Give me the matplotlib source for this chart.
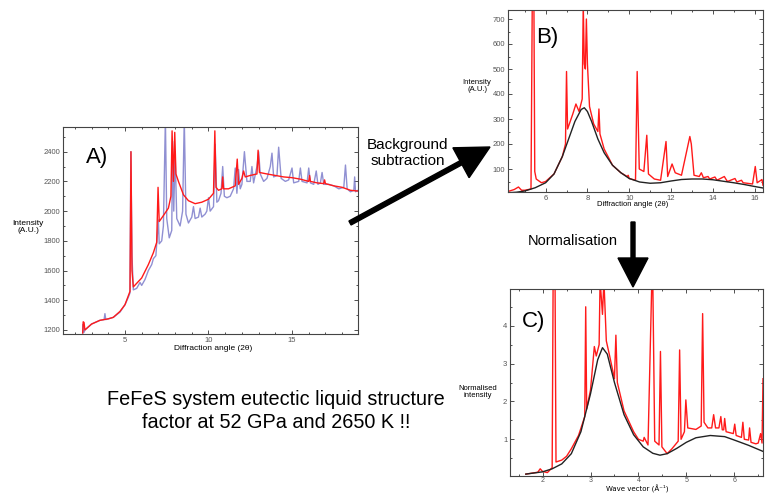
import matplotlib
matplotlib.use("Agg")
import matplotlib.pyplot as plt
from matplotlib.patches import FancyArrow
from matplotlib.ticker import MultipleLocator

plt.rcParams['font.family'] = ['Liberation Sans', 'DejaVu Sans']

# ---------------- Panel A data ----------------
a_red_x = [2.47, 2.5, 2.55, 2.6, 3.0, 3.5, 4.0, 4.3, 4.7, 5.0, 5.2, 5.3, 5.36, 5.42, 5.5, 6.0, 6.4, 6.7, 6.9,
           6.98, 7.05, 7.3, 7.6, 7.75, 7.82, 7.9, 7.98, 8.05, 8.2, 8.5, 8.8, 9.2, 9.6, 10.0, 10.3, 10.38, 10.45,
           10.6, 10.8, 10.85, 10.9, 11.2, 11.6, 11.72, 11.8, 12.0, 12.1, 12.2, 12.5, 12.9, 12.97, 13.05, 13.5,
           14.0, 14.5, 15.0, 15.5, 16.0, 16.05, 16.1, 16.5, 16.9, 16.95, 17.0, 17.5, 18.0, 18.5, 18.95]
a_red_y = [1180, 1255, 1250, 1200, 1240, 1265, 1275, 1285, 1325, 1370, 1430, 1460, 2400, 1600, 1490, 1550, 1640,
           1720, 1790, 2160, 1930, 1970, 2020, 2100, 2540, 2200, 2530, 2250, 2200, 2110, 2070, 2050, 2060, 2080,
           2120, 2540, 2160, 2140, 2150, 2230, 2150, 2150, 2170, 2350, 2180, 2220, 2270, 2230, 2240, 2250, 2410,
           2260, 2250, 2240, 2230, 2225, 2215, 2200, 2240, 2200, 2190, 2185, 2210, 2185, 2170, 2160, 2140, 2135]

a_blue_x = [2.47, 2.5, 2.55, 2.6, 3.0, 3.5, 3.75, 3.8, 3.85, 4.3, 4.7, 5.0, 5.2, 5.3, 5.35, 5.42, 5.5, 5.7,
            5.9, 6.0, 6.2, 6.4, 6.6, 6.7, 6.85, 7.0, 7.05, 7.2, 7.3, 7.42, 7.5, 7.65, 7.8, 7.85, 7.92, 8.0, 8.1,
            8.3, 8.45, 8.55, 8.65, 8.8, 9.0, 9.1, 9.2, 9.4, 9.5, 9.6, 9.8, 9.9, 10.0, 10.1, 10.3, 10.4, 10.5,
            10.6, 10.75, 10.85, 10.95, 11.1, 11.3, 11.5, 11.6, 11.7, 11.8, 11.9, 12.0, 12.15, 12.3, 12.5, 12.6,
            12.7, 12.9, 13.0, 13.1, 13.3, 13.5, 13.7, 13.8, 13.9, 14.1, 14.2, 14.35, 14.6, 14.8, 15.0, 15.1,
            15.4, 15.5, 15.6, 15.9, 16.0, 16.1, 16.3, 16.45, 16.55, 16.7, 16.8, 16.9, 17.2, 17.5, 17.8, 18.1,
            18.2, 18.3, 18.5, 18.7, 18.75, 18.8, 18.95]
a_blue_y = [1180, 1240, 1185, 1200, 1240, 1265, 1270, 1310, 1270, 1285, 1320, 1370, 1420, 1450, 2400, 1700, 1470,
            1480, 1520, 1500, 1540, 1600, 1640, 1680, 1700, 1940, 1780, 1800, 1900, 2620, 1950, 1820, 1870, 2470,
            2000, 2400, 1950, 1900, 2000, 2620, 1980, 1920, 1960, 2030, 1950, 1960, 2020, 1960, 1980, 2000, 2090,
            2000, 2030, 2450, 2060, 2070, 2120, 2300, 2100, 2090, 2100, 2150, 2290, 2120, 2280, 2150, 2180, 2400,
            2200, 2200, 2300, 2190, 2300, 2400, 2250, 2200, 2220, 2300, 2390, 2230, 2240, 2430, 2220, 2200, 2210,
            2290, 2190, 2200, 2290, 2200, 2190, 2290, 2190, 2180, 2270, 2180, 2190, 2260, 2180, 2180, 2170, 2150,
            2160, 2310, 2150, 2130, 2140, 2230, 2130, 2140]

# ---------------- Panel B data ----------------
b_black_x = [4.2, 4.6, 5.0, 5.5, 6.0, 6.4, 6.8, 7.1, 7.4, 7.7, 7.85, 8.0, 8.2, 8.5, 8.8, 9.2, 9.6, 10.0,
             10.5, 11.0, 11.5, 12.0, 12.5, 13.0, 13.5, 14.0, 14.5, 15.0, 15.5, 16.0, 16.4]
b_black_y = [5, 7, 12, 25, 45, 80, 150, 220, 290, 338, 345, 330, 290, 220, 165, 115, 85, 62, 48, 43, 45, 52,
             58, 60, 60, 57, 51, 45, 38, 30, 24]

b_red_x = [4.2, 4.5, 4.7, 4.85, 5.0, 5.3, 5.36, 5.38, 5.44, 5.48, 5.55, 5.8, 6.0, 6.4, 6.8, 6.95, 7.0, 7.05,
           7.3, 7.45, 7.5, 7.6, 7.75, 7.8, 7.85, 7.9, 7.95, 8.0, 8.1, 8.3, 8.5, 8.55, 8.6, 8.8, 9.2, 9.6, 9.9,
           9.95, 10.0, 10.3, 10.38, 10.48, 10.7, 10.84, 10.92, 11.2, 11.5, 11.76, 11.84, 12.05, 12.2, 12.5,
           12.9, 12.97, 13.1, 13.35, 13.45, 13.55, 13.77, 13.85, 14.1, 14.2, 14.55, 14.62, 14.7, 15.06, 15.15,
           15.37, 15.45, 15.9, 16.03, 16.12, 16.3, 16.35, 16.4]
b_red_y = [10, 18, 28, 15, 15, 20, 760, 760, 760, 90, 60, 45, 50, 80, 150, 200, 490, 260, 320, 360, 350, 330,
           380, 760, 520, 500, 700, 520, 350, 280, 250, 340, 240, 180, 115, 85, 70, 75, 62, 55, 490, 100, 90,
           235, 80, 60, 55, 210, 70, 120, 85, 75, 230, 200, 75, 70, 85, 65, 70, 60, 68, 55, 70, 60, 50, 62, 48,
           55, 45, 40, 110, 45, 55, 58, 35]

# ---------------- Panel C data ----------------
c_black_x = [1.65, 2.0, 2.2, 2.4, 2.6, 2.8, 3.0, 3.15, 3.25, 3.35, 3.5, 3.7, 3.9, 4.1, 4.3, 4.45, 4.6, 4.8,
             5.0, 5.2, 5.5, 5.8, 6.0, 6.3, 6.6]
c_black_y = [0.08, 0.14, 0.22, 0.35, 0.62, 1.2, 2.2, 3.1, 3.42, 3.25, 2.5, 1.65, 1.12, 0.8, 0.63, 0.58, 0.62,
             0.76, 0.92, 1.04, 1.1, 1.07, 0.98, 0.84, 0.68]

c_red_x = [1.65, 1.9, 1.95, 2.0, 2.1, 2.2, 2.22, 2.26, 2.28, 2.4, 2.5, 2.6, 2.75, 2.88, 2.9, 2.92, 3.0, 3.08,
           3.12, 3.18, 3.2, 3.25, 3.28, 3.33, 3.4, 3.5, 3.53, 3.56, 3.7, 3.9, 4.0, 4.1, 4.12, 4.2, 4.28, 4.3,
           4.34, 4.43, 4.46, 4.49, 4.6, 4.7, 4.83, 4.86, 4.89, 4.96, 4.99, 5.03, 5.2, 5.31, 5.34, 5.37, 5.45,
           5.53, 5.57, 5.61, 5.68, 5.72, 5.75, 5.78, 5.8, 5.83, 5.98, 6.01, 6.04, 6.15, 6.18, 6.21, 6.3, 6.32,
           6.35, 6.45, 6.5, 6.55, 6.58, 6.6]
c_red_y = [0.08, 0.13, 0.22, 0.15, 0.12, 0.25, 5.2, 5.2, 0.4, 0.45, 0.55, 0.75, 1.1, 1.6, 4.5, 1.8, 2.3, 3.45,
           3.2, 3.5, 5.2, 4.3, 5.2, 3.6, 3.2, 2.6, 3.75, 2.5, 1.75, 1.2, 1.0, 0.95, 1.05, 0.85, 5.2, 5.2, 0.95,
           0.85, 3.32, 0.8, 0.62, 0.75, 0.95, 3.36, 1.0, 1.2, 2.04, 1.3, 1.26, 1.35, 4.32, 1.45, 1.3, 1.3, 1.65,
           1.3, 1.3, 1.6, 1.25, 1.25, 1.55, 1.2, 1.15, 1.4, 1.1, 1.05, 1.45, 1.0, 0.98, 1.3, 0.92, 0.88, 0.9,
           1.15, 0.9, 2.6]

RED = '#ff1a1a'
BLUE = '#6b6bc4'
BLACK = '#222222'

fig = plt.figure(figsize=(7.65, 4.93), dpi=100)
W, H = 765.0, 493.0


def axes_px(x0, y0, x1, y1):
    return fig.add_axes([x0 / W, 1 - y1 / H, (x1 - x0) / W, (y1 - y0) / H])


def style(ax, xmaj, xmin, ymaj, ymin):
    ax.xaxis.set_major_locator(MultipleLocator(xmaj))
    ax.xaxis.set_minor_locator(MultipleLocator(xmin))
    ax.yaxis.set_major_locator(MultipleLocator(ymaj))
    ax.yaxis.set_minor_locator(MultipleLocator(ymin))
    ax.tick_params(which='both', direction='in', top=True, right=True, width=0.6, colors='#333',
                   labelsize=5.5, labelcolor='#555', pad=2)
    ax.tick_params(which='major', length=3)
    ax.tick_params(which='minor', length=1.6)
    for s in ax.spines.values():
        s.set_color('#444')
        s.set_linewidth(0.8)


# Panel A
axA = axes_px(63, 127, 358, 334)
axA.plot(a_blue_x, a_blue_y, color=BLUE, lw=1.0, alpha=0.75)
axA.plot(a_red_x, a_red_y, color=RED, lw=1.0)
axA.set_xlim(1.29, 18.95)
axA.set_ylim(1173, 2566)
style(axA, 5, 1, 200, 100)
fig.text(28 / W, 1 - 227 / H, 'Intensity\n(A.U.)', ha='center', va='center', fontsize=6, linespacing=1.1)
fig.text(213 / W, 1 - 348 / H, 'Diffraction angle (2θ)', ha='center', va='center', fontsize=6)
fig.text(97 / W, 1 - 157 / H, 'A)', ha='center', va='center', fontsize=16)

# Panel B
axB = axes_px(508, 10, 763, 192)
axB.plot(b_red_x, b_red_y, color=RED, lw=1.0)
axB.plot(b_black_x, b_black_y, color=BLACK, lw=1.0)
axB.set_xlim(4.2, 16.4)
axB.set_ylim(8, 736)
style(axB, 2, 1, 100, 50)
fig.text(477 / W, 1 - 86 / H, 'Intensity\n(A.U.)', ha='center', va='center', fontsize=5.5, linespacing=1.1)
fig.text(633 / W, 1 - 205 / H, 'Diffraction angle (2θ)', ha='center', va='center', fontsize=5.5)
fig.text(547 / W, 1 - 37 / H, 'B)', ha='center', va='center', fontsize=16)

# Panel C
axC = axes_px(510, 289, 763, 476)
axC.plot(c_red_x, c_red_y, color=RED, lw=1.0)
axC.plot(c_black_x, c_black_y, color=BLACK, lw=1.0)
axC.set_xlim(1.32, 6.6)
axC.set_ylim(0.03, 4.97)
style(axC, 1, 0.5, 1, 0.5)
axC.tick_params(axis='x', pad=0.5, labelsize=5)
fig.text(637 / W, 1 - 493 / H, 'Wave vector (Å⁻¹)', ha='center', va='bottom', fontsize=5.0,
         family=['DejaVu Sans'])
fig.text(478 / W, 1 - 392 / H, 'Normalised\nintensity', ha='center', va='center', fontsize=5.5, linespacing=1.1)
fig.text(534 / W, 1 - 322 / H, 'C)', ha='center', va='center', fontsize=16)

# Arrows (figure inches)
tr = fig.dpi_scale_trans
fig.add_artist(FancyArrow(3.50, (H - 223) / 100, 1.40, 0.76, width=0.045, head_width=0.34, head_length=0.33,
                          length_includes_head=True, color='black', transform=tr))
fig.add_artist(FancyArrow(6.33, (H - 222) / 100, 0.0, -0.65, width=0.04, head_width=0.30, head_length=0.29,
                          length_includes_head=True, color='black', transform=tr))

fig.text(408 / W, 1 - 153 / H, 'Background\nsubtraction', ha='center', va='center', fontsize=11,
         linespacing=1.15)
fig.text(573 / W, 1 - 241 / H, 'Normalisation', ha='center', va='center', fontsize=10.5)
fig.text(276 / W, 1 - 411 / H, 'FeFeS system eutectic liquid structure\nfactor at 52 GPa and 2650 K !!',
         ha='center', va='center', fontsize=14.3, linespacing=1.22)

fig.savefig('out.png', dpi=100)
